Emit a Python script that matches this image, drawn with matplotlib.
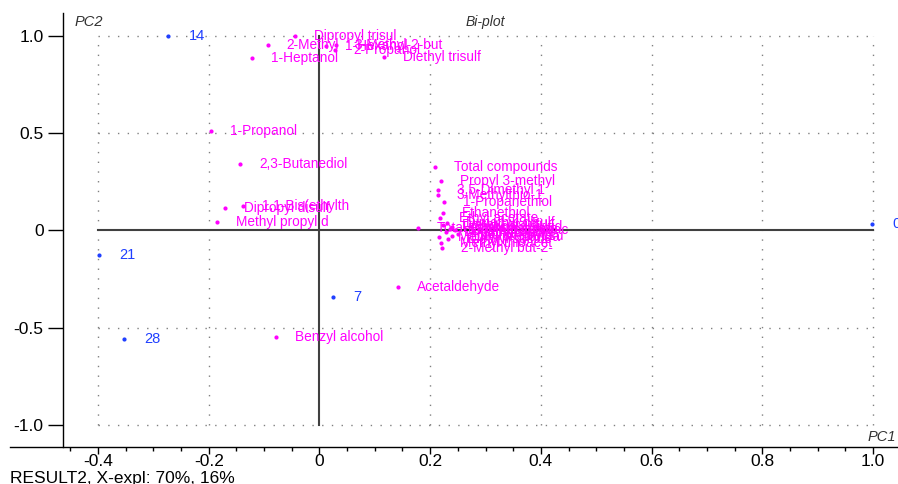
import matplotlib.pyplot as plt
from matplotlib.lines import Line2D
import numpy as np

plt.rcParams['font.family'] = ['Liberation Sans', 'DejaVu Sans']

# samples (scores)
sample_names = ['14', '21', '28', '7', '0']
sample_x = [-0.273, -0.398, -0.353, 0.025, 0.998]
sample_y = [1.0, -0.126, -0.558, -0.342, 0.033]

# variables (loadings)
var_names = ['Dipropyl trisul', '2-Methyl', '1-Heptanol', 'Diethyl trisulf',
             '1-Hexanol', '3-Methyl-2-but', '2-Propanol',
             '1-Propanol', '2,3-Butanediol', 'Dipropyl disulf', '1,1-Bis(ethylth',
             'Methyl propyl d', 'Benzyl alcohol', 'Acetaldehyde',
             'Total compounds', 'Propyl 3-methyl', '3,5-Dimethyl 1', '3-Methylthio-1',
             '1-Propanethiol', 'Ethanethiol', 'Total esters', 'Ethyl acetate',
             'Dimethyl disulf', 'Diethyl disulfi', 'Carbon disulfid', 'Ethyl thioaceta',
             'S-Methyl thioac', 'Dimethyl sulfid', 'Methanethiol', 'Ethyl methyl su',
             'Methyl propanoa', 'Diethyl sulfide', 'Methyl thioacet', '2-Methyl but-2-']
var_x = [-0.044, -0.093, -0.122, 0.117,
         0.012, 0.030, 0.028,
         -0.196, -0.143, -0.170, -0.138,
         -0.185, -0.078, 0.142,
         0.209, 0.220, 0.214, 0.214,
         0.225, 0.223, 0.178, 0.218,
         0.230, 0.223, 0.240, 0.235,
         0.245, 0.228, 0.250, 0.240,
         0.216, 0.232, 0.220, 0.221]
var_y = [1.0, 0.954, 0.887, 0.892,
         0.950, 0.955, 0.928,
         0.512, 0.342, 0.116, 0.126,
         0.044, -0.548, -0.290,
         0.326, 0.254, 0.207, 0.182,
         0.146, 0.090, 0.013, 0.064,
         0.040, 0.028, 0.020, 0.010,
         0.000, -0.010, -0.020, -0.030,
         -0.033, -0.045, -0.064, -0.090]

x_ticks = [-0.4, -0.2, 0, 0.2, 0.4, 0.6, 0.8, 1.0]
x_ticklabels = ['-0.4', '-0.2', '0', '0.2', '0.4', '0.6', '0.8', '1.0']
y_ticks = [1.0, 0.5, 0, -0.5, -1.0]
y_ticklabels = ['1.0', '0.5', '0', '-0.5', '-1.0']

magenta = '#ff00ff'
blue = '#1f3fff'

fig = plt.figure(figsize=(8.98, 4.84), dpi=100)
ax = fig.add_axes([63 / 898, 37 / 484, 835 / 898, 434 / 484])
ax.set_xlim(-0.4632, 1.045)
ax.set_ylim(-1.113, 1.118)

# dotted grid inside the -0.4..1.0 / -1..1 box
for gx in [-0.4, -0.2, 0.2, 0.4, 0.6, 0.8, 1.0]:
    ax.plot([gx, gx], [-1.0, 1.0], color='#808080', lw=1, ls=(0, (1, 6)), zorder=1)
for gy in [1.0, 0.5, -0.5, -1.0]:
    ax.plot([-0.4, 1.0], [gy, gy], color='#808080', lw=1, ls=(0, (1, 6)), zorder=1)

# zero lines
ax.plot([-0.4, 1.0], [0, 0], color='#404040', lw=1.5, zorder=2)
ax.plot([0, 0], [-1.0, 1.0], color='#404040', lw=1.5, zorder=2)

# variables
ax.plot(var_x, var_y, 'o', color=magenta, ms=2, zorder=3)
for name, x, y in zip(var_names, var_x, var_y):
    ax.annotate(name, (x, y), xytext=(13.5, 0), textcoords='offset points',
                va='center', ha='left', color=magenta, fontsize=9.8, zorder=4)

# samples
ax.plot(sample_x, sample_y, 'o', color=blue, ms=2, zorder=3)
for name, x, y in zip(sample_names, sample_x, sample_y):
    ax.annotate(name, (x, y), xytext=(14.5, 0), textcoords='offset points',
                va='center', ha='left', color=blue, fontsize=10.5, zorder=4,
                annotation_clip=False)

# axes styling
for s in ['top', 'right', 'bottom']:
    ax.spines[s].set_visible(False)
ax.spines['left'].set_linewidth(1)
ax.set_xticks(x_ticks)
ax.set_xticklabels(x_ticklabels, fontsize=12.5)
ax.set_xticks(np.arange(-0.45, 1.05, 0.05), minor=True)
ax.set_yticks(y_ticks)
ax.set_yticklabels(y_ticklabels, fontsize=12.5)
ax.tick_params(axis='x', which='major', direction='out', length=5, width=1, pad=0)
ax.tick_params(axis='x', which='minor', direction='out', length=3, width=1)
ax.tick_params(axis='y', which='major', direction='out', length=11, width=1, pad=3)

# bottom axis line extends under the y-axis labels
fig.add_artist(Line2D([10 / 898, 1.0], [37 / 484, 37 / 484], color='black', lw=1))

fig.text(75 / 898, 1 - 22 / 484, 'PC2', fontsize=10.5, style='italic', va='center', color='#333333')
fig.text(485 / 898, 1 - 22 / 484, 'Bi-plot', fontsize=10, style='italic', va='center', ha='center', color='#333333')
fig.text(896 / 898, 1 - 437 / 484, 'PC1', fontsize=10.5, style='italic', va='center', ha='right', color='#333333')
fig.text(10 / 898, 1 - 478 / 484, 'RESULT2, X-expl: 70%, 16%', fontsize=12.5, va='center', ha='left')

fig.savefig('out.png', dpi=100)
